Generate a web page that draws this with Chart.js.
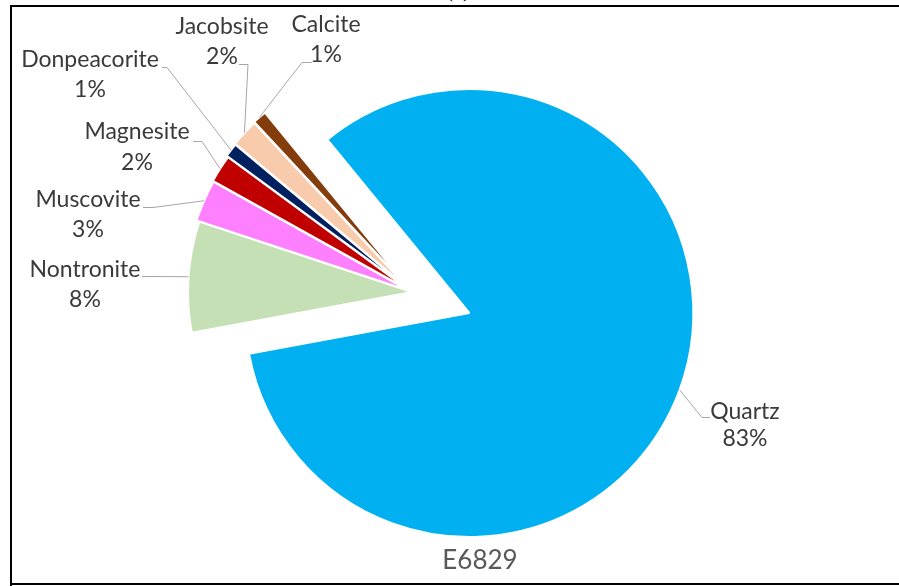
<!DOCTYPE html>
<html>
<head>
<meta charset="utf-8">
<title>E6829 mineral composition</title>
<script src="https://cdn.jsdelivr.net/npm/chart.js@4.4.0/dist/chart.umd.min.js"></script>
<style>
  html, body { margin: 0; padding: 0; background: #ffffff; }
  #wrap { width: 899px; height: 586px; position: relative; }
  canvas { display: block; }
</style>
</head>
<body>
<div id="wrap"><canvas id="pie" width="899" height="586"></canvas></div>
<script>
// Mineral phases of sample E6829 (percent of total)
const minerals = ['Quartz', 'Nontronite', 'Muscovite', 'Magnesite', 'Donpeacorite', 'Jacobsite', 'Calcite'];
const percents = [83, 8, 3, 2, 1, 2, 1];
const sampleName = 'E6829';
const panelTag = '(c)';

// Styling
const sliceColors = ['#00B0F0', '#C5E0B4', '#FF80FF', '#C00000', '#002060', '#F8CBAD', '#843C0C'];
const explodePx = [61, 0, 3, 4, 6, 7, 8];   // how far each slice is pulled out along its bisector
const labelFont = '23px Lato, "Open Sans", sans-serif';
const titleFont = '26px Lato, "Open Sans", sans-serif';

// Data-label placement: text centre x, first baseline, leader stub (text end -> elbow)
const labelLayout = [
  { x: 745, y: 419, gap: 27, stub: [710, 417, 702, 417] },
  { x: 85,  y: 277, gap: 30, stub: [142, 276, 150, 276] },
  { x: 88,  y: 207, gap: 30, stub: [143, 207, 153, 207] },
  { x: 137, y: 139, gap: 31, stub: [193, 141, 202, 141] },
  { x: 90,  y: 67,  gap: 30, stub: [162, 67, 167, 67] },
  { x: 222, y: 34,  gap: 30, stub: [239, 64, 248, 64] },
  { x: 326, y: 32,  gap: 30, stub: [312, 62, 302, 62] }
];

// Pull slices outward from the pie centre
const explodePlugin = {
  id: 'explode',
  afterDatasetsUpdate(chart) {
    const meta = chart.getDatasetMeta(0);
    meta.data.forEach((arc, i) => {
      const mid = (arc.startAngle + arc.endAngle) / 2;
      arc.x += Math.cos(mid) * explodePx[i];
      arc.y += Math.sin(mid) * explodePx[i];
    });
  }
};

// Category name + percentage with leader lines to each slice's outer bisector point
const labelPlugin = {
  id: 'sliceLabels',
  afterDatasetsDraw(chart) {
    const ctx = chart.ctx;
    const meta = chart.getDatasetMeta(0);
    ctx.save();
    meta.data.forEach((arc, i) => {
      const lay = labelLayout[i];
      const mid = (arc.startAngle + arc.endAngle) / 2;
      const ex = arc.x + Math.cos(mid) * arc.outerRadius;
      const ey = arc.y + Math.sin(mid) * arc.outerRadius;
      ctx.strokeStyle = '#A6A6A6';
      ctx.lineWidth = 1;
      ctx.beginPath();
      ctx.moveTo(lay.stub[0], lay.stub[1] + 0.5);
      ctx.lineTo(lay.stub[2], lay.stub[3] + 0.5);
      ctx.lineTo(ex, ey);
      ctx.stroke();
      ctx.fillStyle = '#3A3A3A';
      ctx.font = labelFont;
      ctx.textAlign = 'center';
      ctx.textBaseline = 'alphabetic';
      ctx.fillText(minerals[i], lay.x, lay.y);
      ctx.fillText(percents[i] + '%', lay.x, lay.y + lay.gap);
    });
    ctx.restore();
  }
};

// Panel frame, sample name and panel tag
const framePlugin = {
  id: 'frame',
  afterDraw(chart) {
    const ctx = chart.ctx;
    ctx.save();
    ctx.fillStyle = '#000000';
    ctx.fillRect(10, 5, 889, 2);
    ctx.fillRect(10, 5, 2, 581);
    ctx.fillRect(10, 583, 889, 2);
    ctx.fillStyle = '#595959';
    ctx.font = titleFont;
    ctx.textAlign = 'center';
    ctx.textBaseline = 'alphabetic';
    ctx.fillText(sampleName, 480, 569);
    ctx.fillStyle = '#000000';
    ctx.font = '22px "Times New Roman", "Liberation Serif", serif';
    ctx.fillText(panelTag, 458, -3);
    ctx.restore();
  }
};

new Chart(document.getElementById('pie'), {
  type: 'pie',
  data: {
    labels: minerals,
    datasets: [{
      data: percents,
      backgroundColor: sliceColors,
      borderColor: '#ffffff',
      borderWidth: 2,
      radius: 224
    }]
  },
  options: {
    responsive: false,
    maintainAspectRatio: false,
    devicePixelRatio: 1,
    animation: false,
    rotation: -39.3,
    layout: { padding: { left: 0, right: 75, top: 0, bottom: 2 } },
    plugins: {
      legend: { display: false },
      tooltip: { enabled: false }
    }
  },
  plugins: [explodePlugin, labelPlugin, framePlugin]
});
</script>
</body>
</html>
